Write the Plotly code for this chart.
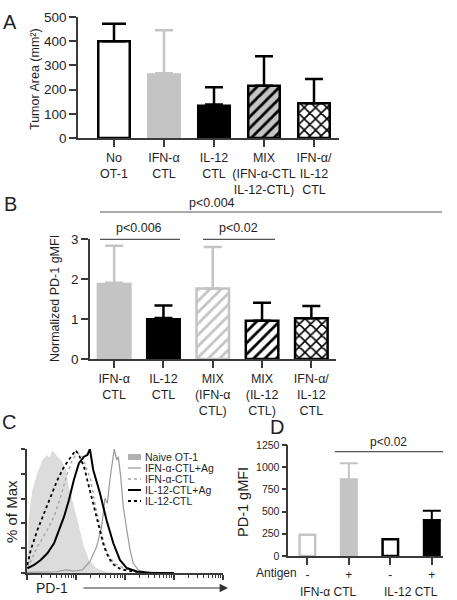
import math
import plotly.graph_objects as go

W, H = 457, 600
FONT = "Liberation Sans, Arial, sans-serif"
INK = "#1f1f1f"
AXC = "#3a3a3a"
GRAY = "#c4c4c4"


def px(x):
    return x / W


def py(y):
    return 1 - y / H


# ---------------- data ----------------
# Panel A: tumor area
a_categories = ["No<br>OT-1", "IFN-α<br>CTL", "IL-12<br>CTL",
                "MIX<br>(IFN-α-CTL<br>IL-12-CTL)", "IFN-α/<br>IL-12<br>CTL"]
a_tumor_area = [400, 268, 138, 216, 144]
a_sd = [72, 177, 72, 122, 100]
a_yticks = [0, 100, 200, 300, 400, 500]

# Panel B: normalized PD-1 gMFI
b_categories = ["IFN-α<br>CTL", "IL-12<br>CTL", "MIX<br>(IFN-α<br>CTL)",
                "MIX<br>(IL-12<br>CTL)", "IFN-α/<br>IL-12<br>CTL"]
b_pd1_norm = [1.91, 1.03, 1.77, 0.96, 1.02]
b_sd = [0.93, 0.31, 1.04, 0.45, 0.31]
b_yticks = [0, 1, 2, 3]

# Panel C: PD-1 histograms (x: relative channel 0-100, y: % of max)
c_names = ["Naive OT-1", "IFN-α-CTL+Ag", "IFN-α-CTL", "IL-12-CTL+Ag", "IL-12-CTL"]
naive_x = [0, 0.5, 1.0, 2.7, 5.3, 7.8, 10.4, 11.5, 12.9, 14.0, 15.5, 18.0, 19.8,
           21.4, 23.9, 26.5, 29.1, 31.6, 35.0, 39.3, 45, 75]
naive_y = [0, 26.6, 45.4, 67.0, 80.6, 91.1, 95.2, 93, 99, 97, 94, 90, 83,
           69.6, 53.5, 37.4, 21.2, 10.5, 4.5, 1.5, 0, 0]
ifn_ag_x = [0, 15, 20, 24, 28.2, 32.1, 35.5, 38.1, 39.8, 41.0, 42.3, 43.7, 44.5,
            45.8, 46.6, 47.8, 49.1, 50.9, 52.6, 54.2, 56.8, 61.1, 75]
ifn_ag_y = [0.5, 1, 2.5, 1.5, 2.4, 9.1, 21.2, 37.4, 60.2, 56.2, 75, 93.8, 100,
            91.1, 93.8, 77.7, 53.5, 34.7, 18.5, 7.8, 2.4, 0.2, 0]
ifn_x = [0.2, 5.3, 10.4, 13.8, 17.2, 20.6, 23.1, 25.7, 28.2, 30.8, 32.5, 35.0,
         38.4, 41.0, 44.4, 49.5, 58, 75]
ifn_y = [3.8, 21.2, 34.7, 45.4, 61.6, 80.4, 91.1, 97, 93.8, 83.1, 75, 53.5,
         29.3, 15.9, 7.8, 3.8, 0.8, 0]
il12_ag_x = [0.2, 3.6, 7.0, 10.4, 13.8, 16.3, 18.9, 21.4, 23.9, 26.5, 29.1, 30.8,
             32.1, 33.8, 37.2, 40.6, 44.0, 47.4, 50.9, 56, 62, 75]
il12_ag_y = [3.8, 6.5, 10.5, 15.9, 24.0, 34.7, 45.4, 58.9, 75.0, 88.5, 93.8, 95.2,
             100, 83.1, 64.5, 42.5, 24.2, 10.5, 4.0, 1.2, 0.3, 0]
il12_x = [0.2, 1.9, 5.3, 8.7, 12.1, 15.5, 18.9, 22.3, 24.8, 26.5, 29.1, 31.6, 34.2,
          36.7, 39.3, 41.8, 44.4, 47.8, 52.9, 60, 75]
il12_y = [6.4, 18.5, 34.7, 48.1, 61.6, 75, 85.7, 93.8, 99, 95.2, 85.7, 69.6, 53.5,
          37.4, 21.2, 11.8, 6.5, 3, 1.6, 0.3, 0]
c_yticks = [0, 20, 40, 60, 80, 100]

# Panel D: PD-1 gMFI
d_categories = ["IFN-α CTL −", "IFN-α CTL +", "IL-12 CTL −", "IL-12 CTL +"]
d_antigen = ["-", "+", "-", "+"]
d_groups = ["IFN-α CTL", "IL-12 CTL"]
d_pd1_gmfi = [238, 863, 190, 405]
d_sd = [0, 181, 0, 105]
d_yticks = [0, 250, 500, 750, 1000, 1250]

# ---------------- styles ----------------
a_styles = [
    dict(fill="white", line="black", lw=2.5, err="black", pat=None, cap=12),
    dict(fill=GRAY, line=GRAY, lw=0, err=GRAY, pat=None, cap=9),
    dict(fill="black", line="black", lw=0, err="black", pat=None, cap=9),
    dict(fill=GRAY, line="black", lw=2.5, err="black", pat=("/", "black"), cap=9),
    dict(fill="white", line="black", lw=2.5, err="black", pat=("x", "black"), cap=9),
]
b_styles = [
    dict(fill=GRAY, line=GRAY, lw=0, err=GRAY, pat=None, cap=9),
    dict(fill="black", line="black", lw=0, err="black", pat=None, cap=9),
    dict(fill="white", line=GRAY, lw=2.5, err=GRAY, pat=("/", GRAY), cap=9),
    dict(fill="white", line="black", lw=2.5, err="black", pat=("/", "black"), cap=9),
    dict(fill="white", line="black", lw=2.5, err="black", pat=("x", "black"), cap=9),
]
d_styles = [
    dict(fill="white", line=GRAY, lw=2.5, err=GRAY, pat=None, cap=9),
    dict(fill=GRAY, line=GRAY, lw=0, err=GRAY, pat=None, cap=9),
    dict(fill="white", line="black", lw=2.5, err="black", pat=None, cap=9),
    dict(fill="black", line="black", lw=0, err="black", pat=None, cap=9),
]

fig = go.Figure()


def add_bars(cats, vals, errs, styles, xa, ya, outer_px, spacing_px, thick=2.5):
    for c, v, e, s in zip(cats, vals, errs, styles):
        marker = dict(color=s["fill"], line=dict(color=s["line"], width=s["lw"]))
        if s["pat"]:
            marker["pattern"] = dict(shape=s["pat"][0], fgcolor=s["pat"][1],
                                     bgcolor=s["fill"], size=8, solidity=0.35,
                                     fillmode="replace")
        fig.add_trace(go.Bar(
            x=[c], y=[v], xaxis=xa, yaxis=ya,
            width=(outer_px - s["lw"]) / spacing_px,
            marker=marker,
            error_y=dict(type="data", symmetric=False, array=[e], arrayminus=[0],
                         color=s["err"], thickness=thick, width=s["cap"], visible=e > 0),
            showlegend=False, hoverinfo="skip"))


add_bars(a_categories, a_tumor_area, a_sd, a_styles, "x", "y", 34, 50)
add_bars(b_categories, b_pd1_norm, b_sd, b_styles, "x2", "y2", 35, 49.25)
add_bars(d_categories, d_pd1_gmfi, d_sd, d_styles, "x4", "y4", 18, 41.5, thick=2)

# Panel C curves
fig.add_trace(go.Scatter(x=naive_x, y=naive_y, xaxis="x3", yaxis="y3", mode="lines",
                         fill="tozeroy", fillcolor="#dcdcdc", line=dict(width=0, color="#dcdcdc"),
                         name=c_names[0], showlegend=False, hoverinfo="skip"))
c_line_styles = [
    dict(color="#9a9a9a", width=1.2, dash="solid"),
    dict(color="#a6a6a6", width=1.4, dash="dot"),
    dict(color="black", width=2.0, dash="solid"),
    dict(color="black", width=1.8, dash="dot"),
]
for nm, xs, ys, st in zip(c_names[1:], [ifn_ag_x, ifn_x, il12_ag_x, il12_x],
                          [ifn_ag_y, ifn_y, il12_ag_y, il12_y], c_line_styles):
    fig.add_trace(go.Scatter(x=xs, y=ys, xaxis="x3", yaxis="y3", mode="lines",
                             line=st, name=nm, showlegend=False, hoverinfo="skip"))


def axis(domain, anchor, fontsize=13, ticklen=6, **kw):
    d = dict(domain=domain, anchor=anchor, ticks="outside", ticklen=ticklen,
             tickwidth=1.5, tickcolor=AXC, showline=True, linecolor=AXC,
             linewidth=1.5, showgrid=False, zeroline=False, fixedrange=True,
             automargin=False, tickangle=0,
             tickfont=dict(size=fontsize, color=INK, family=FONT))
    d.update(kw)
    return d


decade_starts = [0, 25, 50, 75, 100]
minor_c = [d + 25 * math.log10(k) for d in decade_starts[:-1] for k in range(2, 10)]

fig.update_layout(
    template="none",
    width=W, height=600, autosize=False,
    margin=dict(l=0, r=0, t=0, b=0, pad=0),
    paper_bgcolor="white", plot_bgcolor="white", showlegend=False,
    barmode="overlay", font=dict(family=FONT, color=INK),
    xaxis=axis([px(78), px(339)], "y", fontsize=12.5, ticklen=7, type="category",
               categoryorder="array", categoryarray=a_categories, range=[-0.72, 4.5]),
    yaxis=axis([py(138), py(17)], "x", fontsize=13.5, ticklen=7, range=[0, 500],
               tickvals=a_yticks),
    xaxis2=axis([px(90), px(336)], "y2", fontsize=12.5, ticklen=7, type="category",
                categoryorder="array", categoryarray=b_categories, range=[-0.49, 4.5]),
    yaxis2=axis([py(359), py(239.3)], "x2", fontsize=13.5, ticklen=7, range=[0, 3],
                tickvals=b_yticks),
    xaxis3=axis([px(27), px(223)], "y3", ticklen=5, range=[0, 100],
                tickvals=decade_starts, showticklabels=False,
                minor=dict(tickvals=minor_c, ticks="outside", ticklen=3, tickcolor=AXC, tickwidth=1)),
    yaxis3=axis([py(573), py(449)], "x3", ticklen=4, range=[0, 100],
                tickvals=c_yticks, showticklabels=False),
    xaxis4=axis([px(288.3), px(443)], "y4", fontsize=12, ticklen=7, type="category",
                categoryorder="array", categoryarray=d_categories, range=[-0.46, 3.27],
                tickvals=d_categories, ticktext=d_antigen),
    yaxis4=axis([py(556), py(445)], "x4", fontsize=10.5, ticklen=5, range=[0, 1250],
                tickvals=d_yticks),
)

ann = []
shapes = []


def text(x, y, s, size, angle=0, xanchor="center", xref="paper", color=INK):
    ann.append(dict(x=x, y=py(y), xref=xref, yref="paper", text=s, showarrow=False,
                    textangle=angle, xanchor=xanchor, yanchor="middle",
                    font=dict(size=size, family=FONT, color=color)))


def hline(x0, x1, y, color="#555", width=1.2):
    shapes.append(dict(type="line", xref="paper", yref="paper", x0=px(x0), x1=px(x1),
                       y0=py(y), y1=py(y), line=dict(color=color, width=width)))


# panel letters
text(px(10), 22.5, "A", 20)
text(px(10), 204, "B", 20)
text(px(9), 421.5, "C", 20)
text(px(277), 427, "D", 20)

# axis titles
text(px(35), 79, "Tumor Area (mm²)", 12.5, angle=-90)
text(px(55), 299, "Normalized PD-1 gMFI", 12.5, angle=-90)
text(px(11), 512, "% of Max", 15, angle=-90)
text(px(243), 502, "PD-1 gMFI", 14.5, angle=-90)

# significance
hline(100, 442, 212)
text(px(212), 203, "p<0.004", 12.5)
hline(100, 180, 239.3)
text(px(139), 228, "p<0.006", 12.5)
hline(203, 275, 239.3)
text(px(238), 228, "p<0.02", 12.5)
hline(335, 443, 451.7)
text(px(388), 441.7, "p<0.02", 12)

# panel D group labels
text(px(276), 572.7, "Antigen", 12)
text(0.5, 591.7, d_groups[0], 12, xref="x4")
text(2.5, 591.7, d_groups[1], 12, xref="x4")

# panel C x label + arrow
text(px(52), 588, "PD-1", 14)
ann.append(dict(x=px(228), y=py(588), xref="paper", yref="paper", ax=-146, ay=0,
                showarrow=True, arrowhead=2, arrowsize=1.4, arrowwidth=1.2,
                arrowcolor="#333", text=""))

# panel C legend
rows = [457, 468, 479, 490, 501]
shapes.append(dict(type="rect", xref="paper", yref="paper", x0=px(128), x1=px(141),
                   y0=py(460), y1=py(454), fillcolor="#b0b0b0", line=dict(width=0)))
for r, st in zip(rows[1:], c_line_styles):
    shapes.append(dict(type="line", xref="paper", yref="paper", x0=px(128), x1=px(141),
                       y0=py(r), y1=py(r),
                       line=dict(color=st["color"], width=st["width"], dash=st["dash"])))
for r, nm in zip(rows, c_names):
    text(px(143), r, nm, 10.5, xanchor="left")

fig.update_layout(annotations=ann, shapes=shapes)
fig.write_html("out.html", config={"displayModeBar": False},
               post_script="document.body.style.margin='0';document.body.style.overflow='hidden';")
